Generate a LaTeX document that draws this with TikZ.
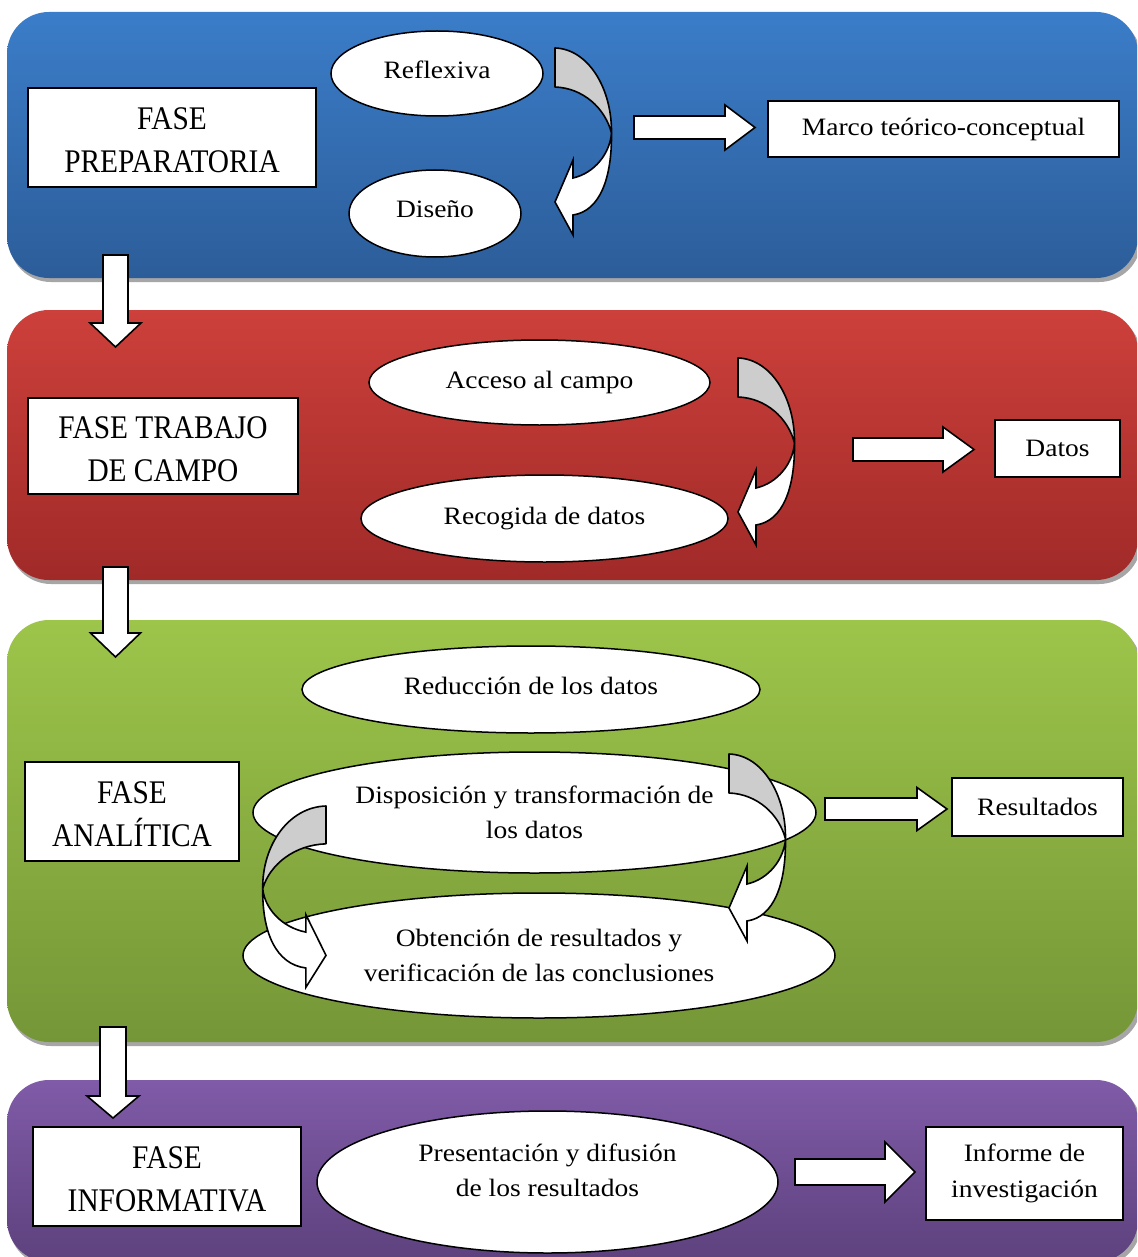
\documentclass[tikz,border=0pt]{standalone}
\usepackage{fontspec}
\setmainfont{Liberation Serif}[FakeStretch=1.1]
\newfontfamily\capsfont{Liberation Serif}[FakeStretch=0.89]
\usetikzlibrary{shapes.geometric}

\definecolor{blueTop}{HTML}{3B7DC9}
\definecolor{blueBot}{HTML}{2C5D99}
\definecolor{redTop}{HTML}{CD403B}
\definecolor{redBot}{HTML}{A02A28}
\definecolor{greenTop}{HTML}{9DC54A}
\definecolor{greenBot}{HTML}{759637}
\definecolor{purpleTop}{HTML}{805BA8}
\definecolor{purpleBot}{HTML}{5D417D}
\definecolor{backside}{HTML}{CDCDCD}

\tikzset{
  panelshadow/.style={fill=black!35},
  phasebox/.style={draw=black, line width=1.5pt, fill=white, rectangle, inner sep=0pt,
    align=center, font=\capsfont\fontsize{33}{43}\selectfont},
  resultbox/.style={draw=black, line width=1.5pt, fill=white, rectangle, inner sep=0pt,
    align=center, font=\fontsize{25}{35.5}\selectfont},
  stageoval/.style={draw=black, line width=1.5pt, fill=white, ellipse, inner sep=0pt,
    align=center, font=\fontsize{25}{35.5}\selectfont},
  blockarrow/.style={draw=black, line width=1.6pt, fill=white, line join=miter},
  twistback/.style={draw=black, line width=1.6pt, fill=backside, line join=round},
  twistfront/.style={draw=black, line width=1.6pt, fill=white, line join=miter},
}

% two-line phase label, set a little low in its box
\newcommand{\phaselabel}[2]{\begin{tabular}{@{}c@{}}\rule{0pt}{40pt}#1\\#2\end{tabular}}

% rounded phase panel with drop shadow: top y, bottom y, top colour, bottom colour
\newcommand{\phasepanel}[4]{%
  \fill[panelshadow, rounded corners=42pt] (9,#1+4) rectangle (1141,#2+4);
  \path[rounded corners=42pt, top color=#3, bottom color=#4] (7,#1) rectangle (1138,#2);}

% block arrow to the right: tail x, head x, tip x, centre y, shaft half, head half
\newcommand{\rightblock}[6]{%
  \draw[blockarrow] (#1,#4-#5) -- (#2,#4-#5) -- (#2,#4-#6) -- (#3,#4)
    -- (#2,#4+#6) -- (#2,#4+#5) -- (#1,#4+#5) -- cycle;}

% block arrow downwards: centre x, tail y, head y, tip y, shaft half, head half
\newcommand{\downblock}[6]{%
  \draw[blockarrow] (#1-#5,#2) -- (#1+#5,#2) -- (#1+#5,#3) -- (#1+#6,#3)
    -- (#1,#4) -- (#1-#6,#3) -- (#1-#5,#3) -- cycle;}

% twisted curved ribbon arrow, origin at the top corner of its tail
\newcommand{\twistarrow}[2][]{%
  \begin{scope}[shift={#2},#1]
    \draw[twistback] (0,0) -- (0,39) .. controls (28,40) and (50,60) .. (56.5,85)
      .. controls (57,40) and (33,1) .. (0,0) -- cycle;
    \draw[twistfront] (56.5,85) .. controls (57,130) and (45,163) .. (18,167)
      -- (18,187) -- (0,154) -- (18,112) -- (18,130)
      .. controls (40,125) and (55,105) .. (56.5,85) -- cycle;
  \end{scope}}

\begin{document}
\begin{tikzpicture}[x=1pt,y=-1pt]
  \useasboundingbox (0,0) rectangle (1137,1257);
  \clip (0,0) rectangle (1137,1257);
  \fill[white] (0,0) rectangle (1137,1257);

  % phase panels
  \phasepanel{12}{278}{blueTop}{blueBot}
  \phasepanel{310}{580}{redTop}{redBot}
  \phasepanel{620}{1042}{greenTop}{greenBot}
  \phasepanel{1080}{1262}{purpleTop}{purpleBot}

  % arrows between phases
  \downblock{115.5}{255}{323}{347}{12.5}{25.5}
  \downblock{115.5}{567}{633}{657}{12.5}{25}
  \downblock{113}{1027}{1096}{1118}{13}{26}

  % preparatory phase
  \node[phasebox, minimum width=288pt, minimum height=99pt] (prep) at (172,137.5) {\phaselabel{FASE}{PREPARATORIA}};
  \node[stageoval, minimum width=212pt, minimum height=85pt] (refl) at (437,73.5) {\raisebox{7pt}{Reflexiva}};
  \node[stageoval, minimum width=172pt, minimum height=87pt] (dise) at (435,213.5) {\raisebox{8pt}{Diseño}};
  \node[resultbox, minimum width=351pt, minimum height=56pt] (marco) at (943.5,129) {Marco teórico-conceptual};
  \twistarrow{(555,48)}
  \rightblock{634}{725}{755}{127.5}{11.5}{22.5}

  % field work phase
  \node[phasebox, minimum width=270pt, minimum height=96pt] (campo) at (163,446) {\phaselabel{FASE TRABAJO}{DE CAMPO}};
  \node[stageoval, minimum width=341pt, minimum height=85pt] (acceso) at (539.5,382.5) {\raisebox{6pt}{Acceso al campo}};
  \node[stageoval, minimum width=367pt, minimum height=87pt] (recog) at (544.5,518.5) {Recogida de datos};
  \node[resultbox, minimum width=125pt, minimum height=57pt] (datos) at (1057.5,448.5) {Datos};
  \twistarrow{(738,358)}
  \rightblock{853}{943}{974}{449.5}{11.5}{22.5}

  % analytic phase
  \node[phasebox, minimum width=214pt, minimum height=99pt] (anal) at (132,811.5) {\phaselabel{FASE}{ANALÍTICA}};
  \node[stageoval, minimum width=458pt, minimum height=87pt] (reduc) at (531,689.5) {\raisebox{8pt}{Reducción de los datos}};
  \node[stageoval, minimum width=563pt, minimum height=121pt] (dispo) at (534.5,812.5) {Disposición y transformación de\\los datos};
  \node[stageoval, minimum width=592pt, minimum height=125pt] (obten) at (539,955.5) {Obtención de resultados y\\verificación de las conclusiones};
  \node[resultbox, minimum width=171pt, minimum height=58pt] (result) at (1037.5,807) {Resultados};
  \twistarrow{(729,754)}
  \twistarrow[xscale=-1.12,yscale=0.97]{(326,806)}
  \rightblock{825}{917}{947}{809}{11}{21.5}

  % informative phase
  \node[phasebox, minimum width=268pt, minimum height=99pt] (info) at (167,1176.5) {\phaselabel{FASE}{INFORMATIVA}};
  \node[stageoval, minimum width=461pt, minimum height=142pt] (pres) at (547.5,1182) {\raisebox{50pt}{\begin{tabular}{@{}c@{}}Presentación y difusión\\de los resultados\end{tabular}}};
  \node[resultbox, minimum width=197pt, minimum height=93pt] (informe) at (1024.5,1173.5) {Informe de\\investigación};
  \rightblock{795}{885}{915}{1172}{13}{30}
\end{tikzpicture}
\end{document}
